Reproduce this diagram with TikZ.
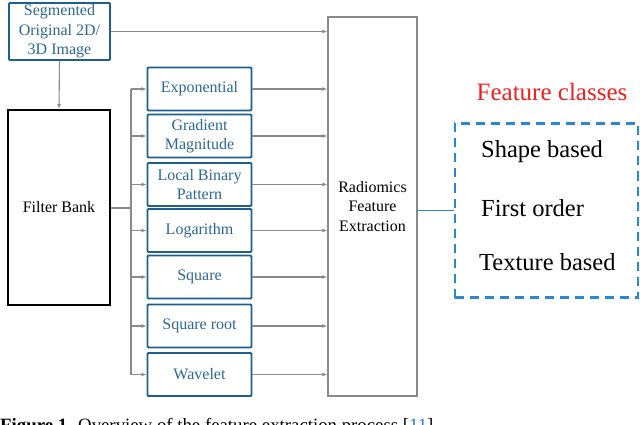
\documentclass[tikz,border=0pt]{standalone}
\usepackage{fontspec}
\setmainfont{Liberation Serif}
\usetikzlibrary{arrows.meta}
\definecolor{boxblue}{HTML}{1F5F8E}
\definecolor{txtblue}{HTML}{2C6894}
\definecolor{arrgray}{HTML}{8A8A8A}
\definecolor{dashblue}{HTML}{2A88D2}
\definecolor{capred}{HTML}{F0201E}
\definecolor{refblue}{HTML}{2A7FD0}
\begin{document}
\begin{tikzpicture}[x=1pt,y=-1pt,
  bluebox/.style={draw=boxblue,line width=1.8pt,rounded corners=1pt,text=txtblue,align=center,font=\fontsize{16}{19.5}\selectfont,inner sep=0pt},
  filterbox/.style={bluebox,minimum width=104pt,minimum height=43pt},
  arr/.style={draw=arrgray,line width=1.1pt,-{Latex[length=5pt,width=4pt]}},
  gline/.style={draw=arrgray,line width=1.1pt},
  bigtxt/.style={font=\fontsize{24.5}{29}\selectfont,anchor=west,inner sep=0pt}]
\clip (0,0) rectangle (640,425);
\fill[white] (0,0) rectangle (640,425);
% source
\node[bluebox,minimum width=101pt,minimum height=57pt] (seg) at (59.5,31.5) {Segmented\\Original 2D/\\3D Image};
\node[draw=black,line width=2.2pt,minimum width=102pt,minimum height=195pt,inner sep=0pt,font=\fontsize{16}{19.5}\selectfont] (fb) at (59,207.5) {Filter Bank};
% filters
\node[filterbox] (f1) at (199.5,89) {Exponential};
\node[filterbox] (f2) at (199.5,136) {Gradient\\Magnitude};
\node[filterbox] (f3) at (199.5,184.5) {Local Binary\\Pattern};
\node[filterbox] (f4) at (199.5,230.5) {Logarithm};
\node[filterbox] (f5) at (199.5,277) {Square};
\node[filterbox] (f6) at (199.5,326) {Square root};
\node[filterbox] (f7) at (199.5,374.5) {Wavelet};
% radiomics
\node[draw=arrgray,line width=1.4pt,minimum width=89pt,minimum height=379pt,inner sep=0pt,align=center,font=\fontsize{16}{19.5}\selectfont] (rad) at (372.5,206.5) {Radiomics\\Feature\\Extraction};
% feature classes
\node[draw=dashblue,line width=2.6pt,dash pattern=on 9pt off 6pt,minimum width=183pt,minimum height=174pt,inner sep=0pt] (fc) at (546.5,210.5) {};
\node[text=capred,font=\fontsize{25}{29}\selectfont,inner sep=0pt] (fct) at (552,92) {Feature classes};
\node[bigtxt] (c1) at (481,152) {Shape based};
\node[bigtxt] (c2) at (481,208) {First order};
\node[bigtxt] (c3) at (479,262) {Texture based};
% connectors
\coordinate (bus) at (131,0);
\draw[arr] (seg.south) -- (fb.north);
\draw[arr] (seg.east) -- (rad.west |- seg.east);
\draw[gline] (fb.east |- 0,208) -- (bus |- 0,208);
\draw[gline] (bus |- f1.west) -- (bus |- f7.west);
\foreach \i in {1,...,7}{
  \draw[arr] (bus |- f\i.west) -- (f\i.west);
  \draw[arr] (f\i.east) -- (rad.west |- f\i.east);
}
\draw[draw=dashblue,line width=1.3pt] (rad.east |- fc.west) -- (fc.west);
% caption (cropped at the lower edge, as in the reference)
\node[anchor=base west,inner sep=0pt,font=\fontsize{18.8}{22}\selectfont] (cap) at (0,431) {\textbf{Figure 1.} Overview of the feature extraction process [\textcolor{refblue}{11}].};
\end{tikzpicture}
\end{document}
